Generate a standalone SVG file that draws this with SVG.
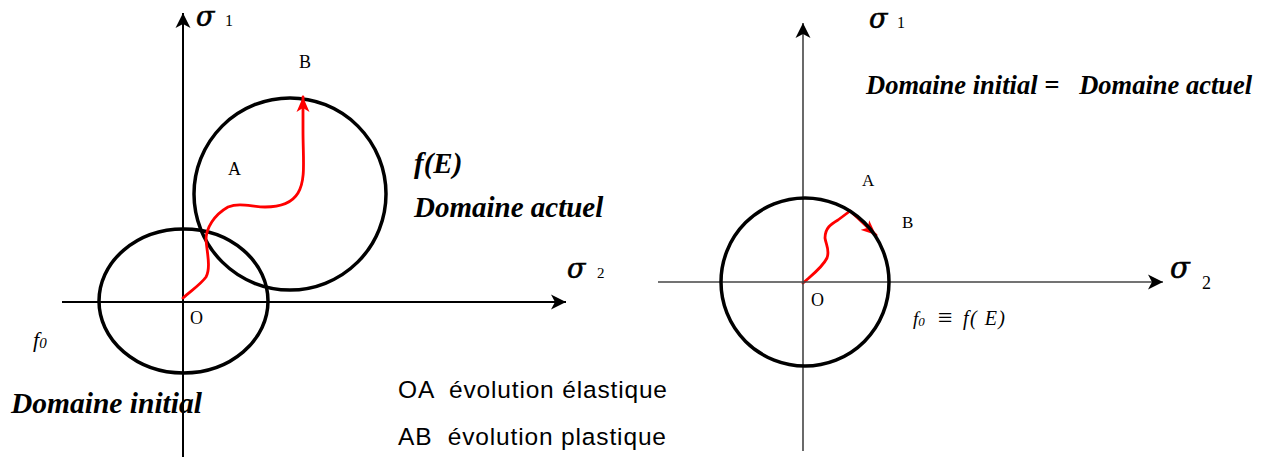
<svg xmlns="http://www.w3.org/2000/svg" width="1272" height="457" viewBox="0 0 1272 457">
<style>
text{white-space:pre}
.serif{font-family:"Liberation Serif","Times New Roman",serif;fill:#000}
.sig{font-family:"DejaVu Serif","Liberation Serif",serif;font-style:italic;fill:#000;stroke:#000;stroke-width:0.6}
.bi{font-family:"Liberation Serif","Times New Roman",serif;font-weight:bold;font-style:italic;fill:#000}
.it{font-family:"Liberation Serif","Times New Roman",serif;font-style:italic;fill:#000}
.sans{font-family:"Liberation Sans",Arial,sans-serif;fill:#000}
.axis{stroke:#000;stroke-width:2;fill:none}
.axis2{stroke:#444;stroke-width:1.6;fill:none}
.dom{stroke:#000;stroke-width:3.5;fill:none}
.path{stroke:#f00;stroke-width:2.8;fill:none;stroke-linejoin:round;stroke-linecap:round}
</style>
<defs>
<marker id="ab" markerUnits="userSpaceOnUse" markerWidth="16" markerHeight="16" refX="15" refY="8" orient="auto">
<path d="M0,0.5 L15,8 L0,15.5 L4,8 z" fill="#000"/>
</marker>
<marker id="ar" markerUnits="userSpaceOnUse" markerWidth="16" markerHeight="14" refX="15" refY="7" orient="auto">
<path d="M0,0.5 L15,7 L0,13.5 L4,7 z" fill="#f00"/>
</marker>
</defs>

<g id="left-axes">
<line class="axis" x1="183" y1="457" x2="183" y2="13" marker-end="url(#ab)"/>
<line class="axis" x1="62" y1="302" x2="566" y2="302" marker-end="url(#ab)"/>
<text class="sig" x="196" y="26" font-size="27">σ</text>
<text class="serif" x="225" y="26" font-size="16">1</text>
<text class="sig" x="567" y="278" font-size="27">σ</text>
<text class="serif" x="597" y="278" font-size="15">2</text>
<text class="serif" x="190" y="324" font-size="18">O</text>
</g>

<g id="domaine-initial">
<ellipse class="dom" cx="183.5" cy="301" rx="84.5" ry="72"/>
<text class="it" x="33" y="347" font-size="22">f<tspan font-size="15" dy="1">0</tspan></text>
<text class="bi" x="11" y="413" font-size="29.5">Domaine initial</text>
</g>

<g id="domaine-actuel">
<circle class="dom" cx="290" cy="194" r="96"/>
<text class="bi" x="414" y="173" font-size="29">f(E)</text>
<text class="bi" x="414" y="217" font-size="29">Domaine actuel</text>
</g>

<g id="connectors">
<path class="path" d="M183,298 C192,290 201,284 206,277 C211,268 207,252 206,240 C206,228 214,215 228,207 C240,202 252,207 265,207 C280,207 292,203 298,193 C306,180 303,160 303,130 L303,97" marker-end="url(#ar)"/>
<path class="path" d="M803,283 C812,275 822,268 827,258 C830,250 826,245 825,238 C825,228 831,224 838,220 L850,211 C858,218 866,226 876,235" marker-end="url(#ar)"/>
</g>

<g id="points-left">
<text class="serif" x="299" y="68" font-size="18">B</text>
<text class="serif" x="228" y="175" font-size="18">A</text>
</g>

<g id="legend">
<text class="sans" x="398" y="398" font-size="24.5" textLength="269" lengthAdjust="spacing">OA  évolution élastique</text>
<text class="sans" x="398" y="445" font-size="24.5" textLength="268" lengthAdjust="spacing">AB  évolution plastique</text>
</g>

<g id="right-axes">
<line class="axis2" x1="803" y1="451" x2="803" y2="23" marker-end="url(#ab)"/>
<line class="axis2" x1="658" y1="282" x2="1163" y2="282" marker-end="url(#ab)"/>
<text class="sig" x="869" y="28" font-size="27">σ</text>
<text class="serif" x="897" y="28" font-size="16">1</text>
<text class="sig" x="1170" y="278" font-size="29">σ</text>
<text class="serif" x="1202" y="289" font-size="18">2</text>
<text class="serif" x="811" y="306" font-size="18">O</text>
</g>

<g id="domaine-commun">
<circle class="dom" cx="805" cy="282" r="84"/>
<text class="bi" x="866" y="94" font-size="26.5">Domaine initial =   Domaine actuel</text>
<text class="it" x="913" y="325" font-size="19">f<tspan font-size="13" dy="1">0</tspan></text>
<text class="serif" x="938" y="326" font-size="26">≡</text>
<text class="it" x="963" y="325" font-size="20" textLength="42" lengthAdjust="spacing">f( E)</text>
</g>

<g id="points-right">
<text class="serif" x="862" y="186" font-size="17">A</text>
<text class="serif" x="902" y="228" font-size="17">B</text>
</g>
</svg>
